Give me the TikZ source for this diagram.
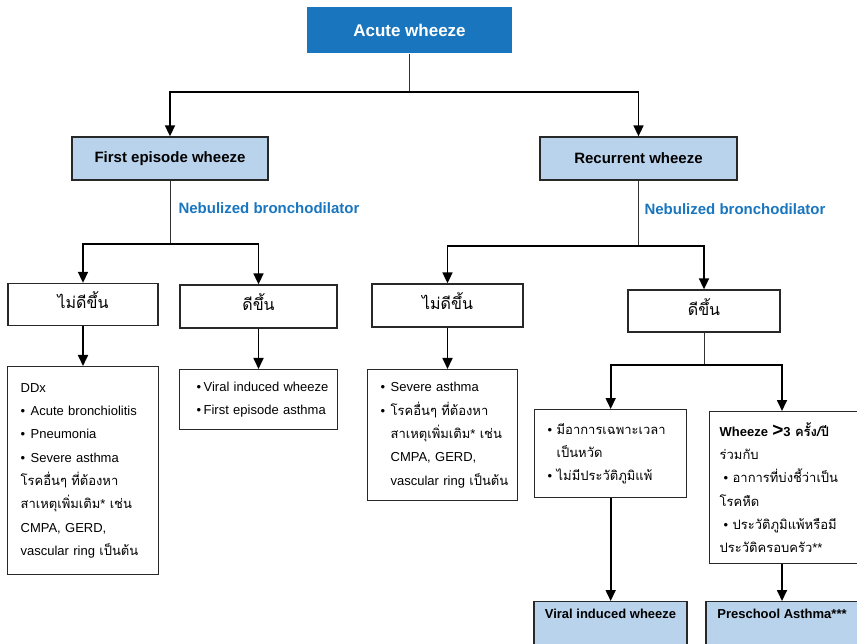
\documentclass[tikz,border=0pt]{standalone}
\usepackage{fontspec}
\setmainfont{Liberation Sans}
\newfontfamily\thaifont[Script=Thai]{Loma}
\usetikzlibrary{arrows.meta}
\definecolor{deepblue}{RGB}{24,117,190}
\definecolor{paleblue}{RGB}{185,211,236}
\definecolor{boxline}{RGB}{40,40,40}
\newcommand{\tha}[1]{{\thaifont #1}}
\newcommand{\bul}[1][10pt]{\makebox[#1][l]{•}}
\newcommand{\ind}[1][10pt]{\hspace*{#1}}

\begin{document}
\begin{tikzpicture}[x=1pt,y=-1pt,
box/.style={draw=boxline,line width=1.3pt,inner sep=0pt},
head/.style={box,fill=paleblue,font=\fontsize{15}{18}\selectfont\bfseries,minimum width=196pt,minimum height=43pt},
choice/.style={box,font=\fontsize{16}{20}\selectfont\thaifont,text height=9pt,text depth=0pt,minimum width=151pt,minimum height=42pt},
list/.style={box,anchor=north west,align=left,font=\fontsize{13}{23.3}\selectfont,inner xsep=13pt},
stem/.style={draw=black!80,line width=1pt},
arr/.style={line width=1.7pt,-{Triangle[width=10pt,length=11pt]}},
note/.style={text=deepblue,font=\fontsize{15}{18}\selectfont\bfseries,anchor=west}]
\useasboundingbox(0,0)rectangle(857,644);
\clip(0,0)rectangle(857,644);
\node[fill=deepblue,text=white,font=\fontsize{17}{20}\selectfont\bfseries,minimum width=205pt,minimum height=46pt,inner sep=0pt](acute)at(409.5,30.5){Acute wheeze};
\node[head](first)at(170,158.5){First episode wheeze};
\node[head,minimum width=197pt](recur)at(638.5,158.5){Recurrent wheeze};
\node[note](nebl)at(175,208){Nebulized bronchodilator};
\node[note](nebr)at(641,209){Nebulized bronchodilator};
\node[choice,minimum width=150pt](worsel)at(83,304.5){ไม่ดีขึ้น};
\node[choice,minimum width=157pt,minimum height=43pt](betterl)at(258.5,306.5){ดีขึ้น};
\node[choice,minimum height=43pt](worser)at(447.5,305.5){ไม่ดีขึ้น};
\node[choice,minimum width=152pt](betterr)at(704,311){ดีขึ้น};
\node[list,text width=125pt,minimum height=208pt](ddx)at(7,366){DDx\\
\mbox{\bul Acute bronchiolitis}\\
\bul Pneumonia\\
\mbox{\bul Severe asthma}\\
\mbox{\tha{โรคอื่นๆ ที่ต้องหา}}\\
\mbox{\tha{สาเหตุเพิ่มเติม}* \tha{เช่น}}\\
\mbox{CMPA, GERD,}\\
\mbox{vascular ring \tha{เป็นต้น}}};
\node[list,inner xsep=17pt,text width=124pt,minimum height=60pt](glist)at(179,369){\mbox{\bul[7pt]Viral induced wheeze}\\
\mbox{\bul[7pt]First episode asthma}};
\node[list,text width=124pt,minimum height=131pt](nrlist)at(367,369){\mbox{\bul Severe asthma}\\
\mbox{\bul\tha{โรคอื่นๆ ที่ต้องหา}}\\
\mbox{\ind\tha{สาเหตุเพิ่มเติม}* \tha{เช่น}}\\
\mbox{\ind CMPA, GERD,}\\
\mbox{\ind vascular ring \tha{เป็นต้น}}};
\node[list,text width=126pt,minimum height=88pt](cold)at(534,409){\mbox{\bul[9pt]\tha{มีอาการเฉพาะเวลา}}\\
\mbox{\ind[9pt]\tha{เป็นหวัด}}\\
\mbox{\bul[9pt]\tha{ไม่มีประวัติภูมิแพ้}}};
\node[list,inner xsep=10pt,text width=132pt,minimum height=152pt](asth)at(709,411){\mbox{\textbf{Wheeze {\fontsize{19}{20}\selectfont >}3 \tha{ครั้ง/ปี}}}\\
\tha{ร่วมกับ}\\
\mbox{\ind[4pt]\bul[9pt]\tha{อาการที่บ่งชี้ว่าเป็น}}\\
\tha{โรคหืด}\\
\mbox{\ind[4pt]\bul[9pt]\tha{ประวัติภูมิแพ้หรือมี}}\\
\mbox{\tha{ประวัติครอบครัว}**}};
\node[head,anchor=north,font=\fontsize{13}{16}\selectfont\bfseries,minimum width=153pt,text height=10pt,text depth=40pt,inner ysep=7pt](viral)at(610.5,601){Viral induced wheeze};
\node[head,anchor=north,font=\fontsize{13}{16}\selectfont\bfseries,minimum width=152pt,text height=10pt,text depth=40pt,inner ysep=7pt](presch)at(782,601){Preschool Asthma***};
\coordinate(jtop)at(409.5,92);
\coordinate(jl)at(170,244);
\coordinate(jr)at(638.5,246);
\coordinate(jb)at(704,365);
\draw[stem](acute.south)--(jtop);
\draw[arr](jtop)-|(first.north);
\draw[arr](jtop)-|(recur.north);
\draw[stem](first.south)--(jl);
\draw[arr](jl)-|(worsel.north);
\draw[arr](jl)-|(betterl.north);
\draw[stem](recur.south)--(jr);
\draw[arr](jr)-|(worser.north);
\draw[arr](jr)-|(betterr.north);
\draw[arr](worsel.south)--(worsel.south|-ddx.north);
\draw[arr](betterl.south)--(betterl.south|-glist.north);
\draw[arr](worser.south)--(worser.south|-nrlist.north);
\draw[stem](betterr.south)--(jb);
\draw[arr](jb)-|(cold.north);
\draw[arr](jb)-|(presch.north|-asth.north);
\draw[arr](cold.south)--(cold.south|-viral.north);
\draw[arr](presch.north|-asth.south)--(presch.north);
\end{tikzpicture}
\end{document}
